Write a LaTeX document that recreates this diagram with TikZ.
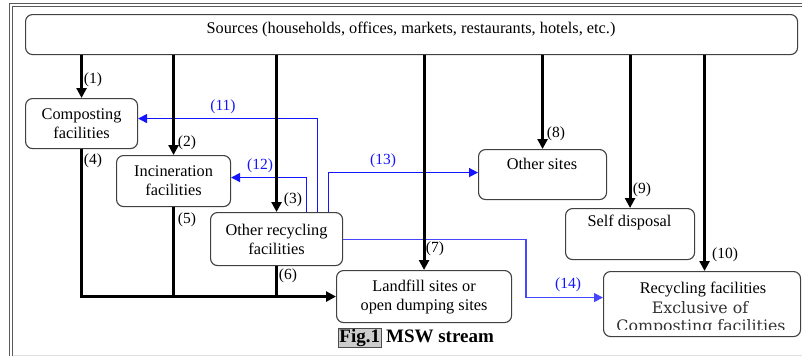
\documentclass[tikz,border=0pt]{standalone}
\usepackage{fontspec}
\setmainfont{Liberation Serif}
\newfontfamily\dvs{DejaVu Serif}
\usetikzlibrary{arrows.meta}
\definecolor{bblue}{RGB}{20,20,255}
\definecolor{lblue}{RGB}{70,70,255}
\tikzset{
  box/.style={draw=black!75, line width=1.1pt, rounded corners=7pt, fill=white, inner sep=0pt, align=center, font=\fontsize{16.3}{19}\selectfont},
  txt/.style={inner sep=0pt, font=\fontsize{16.3}{19}\selectfont},
  lab/.style={inner sep=0pt, font=\fontsize{15.5}{17}\selectfont},
  blab/.style={lab, text=bblue},
  arr/.style={line width=3pt, -{Triangle[length=10pt,width=10pt]}},
  ln/.style={line width=3pt},
  barr/.style={draw=bblue, line width=1.5pt, -{Triangle[length=9pt,width=9pt]}},
  barrl/.style={draw=lblue, line width=1.1pt, -{Triangle[length=9pt,width=9pt]}}
}
\begin{document}
\begin{tikzpicture}[x=1pt,y=-1pt]
\useasboundingbox (0,0) rectangle (802,356);
% outer frame
\draw[black!65, line width=1pt] (9,356) -- (9,3.3) -- (802,3.3);
\draw[black!65, line width=1pt] (12.5,356) -- (12.5,6.5) -- (802,6.5);
\draw[black!12, line width=1pt] (12.5,355) -- (802,355);
% boxes
\node[box, minimum width=772pt, minimum height=40pt, anchor=north west] (src) at (25,14) {};
\node[txt] (srct) at (411,29) {Sources (households, offices, markets, restaurants, hotels, etc.)};
\node[box, minimum width=112pt, minimum height=50pt, anchor=north west] (comp) at (25,98) {Composting\\facilities};
\node[box, minimum width=114pt, minimum height=51pt, anchor=north west] (inc) at (116,155) {Incineration\\facilities};
\node[box, minimum width=132pt, minimum height=53pt, anchor=north west] (orf) at (210,212) {Other recycling\\facilities};
\node[box, minimum width=175pt, minimum height=52pt, anchor=north west] (land) at (336,270) {Landfill sites or\\open dumping sites};
\node[box, minimum width=128pt, minimum height=50pt, anchor=north west] (oth) at (478,149) {};
\node[txt] (otht) at (542,164) {Other sites};
\node[box, minimum width=129pt, minimum height=51pt, anchor=north west] (self) at (565,208) {};
\node[txt] (selft) at (629.5,222) {Self disposal};
\node[box, minimum width=197pt, minimum height=65pt, anchor=north west] (rec) at (603,271) {};
\coordinate (rec10) at ([xshift=2.5pt]rec.north);
\begin{scope}
\clip (604,272) rectangle (799,329.5);
\node[txt, anchor=base] (rect1) at (703,293) {Recycling facilities};
\node[inner sep=0pt, anchor=base, font=\dvs\fontsize{15.8}{17}\selectfont, text=black!80] (rect2) at (700,313) {Exclusive of};
\node[inner sep=0pt, anchor=base, font=\dvs\fontsize{15.8}{17}\selectfont, text=black!80] (rect3) at (701,331) {Composting facilities};
\end{scope}
% blue arrows
\draw[barr] ([xshift=41pt]orf.north) |- ([yshift=5pt]comp.east);
\draw[barr] ([xshift=30pt]orf.north) |- ([yshift=3.5pt]inc.east);
\draw[barr] ([xshift=52pt]orf.north) |- ([yshift=2pt]oth.west);
\coordinate (k14) at (526,260);
\draw[barrl] (orf.east) -| (k14) |- ([yshift=6.5pt]rec.west);
% black arrows from sources
\draw[arr] (src.south -| comp.north) -- (comp.north);
\draw[arr] (src.south -| inc.north) -- (inc.north);
\draw[arr] (src.south -| orf.north) -- (orf.north);
\draw[arr] (src.south -| land.north) -- (land.north);
\draw[arr] (src.south -| oth.north) -- (oth.north);
\draw[arr] (src.south -| self.north) -- (self.north);
\draw[arr] (src.south -| rec10) -- (rec10);
% to landfill
\draw[arr] (comp.south) |- (land.west);
\draw[ln] (inc.south) -- (inc.south |- land.west);
\draw[ln] (orf.south) -- (orf.south |- land.west);
% labels
\node[lab] (l1) at (93,80) {(1)};
\node[lab] (l2) at (187,143) {(2)};
\node[lab] (l3) at (293,200) {(3)};
\node[lab] (l4) at (93,161) {(4)};
\node[lab] (l5) at (187,220) {(5)};
\node[lab] (l6) at (288,276) {(6)};
\node[lab] (l7) at (435,249) {(7)};
\node[lab] (l8) at (556,134) {(8)};
\node[lab] (l9) at (642,190) {(9)};
\node[lab] (l10) at (725,255) {(10)};
\node[blab] (l11) at (223,107) {(11)};
\node[blab] (l12) at (260,166) {(12)};
\node[blab] (l13) at (383,161) {(13)};
\node[blab] (l14) at (568,285) {(14)};
% caption
\node[inner sep=0pt, font=\bfseries\fontsize{19}{22}\selectfont] (cap) at (416,338) {\setlength\fboxsep{0.5pt}\setlength\fboxrule{0.8pt}\fcolorbox{black!70}{black!20}{Fig.1} MSW stream};
\end{tikzpicture}
\end{document}
